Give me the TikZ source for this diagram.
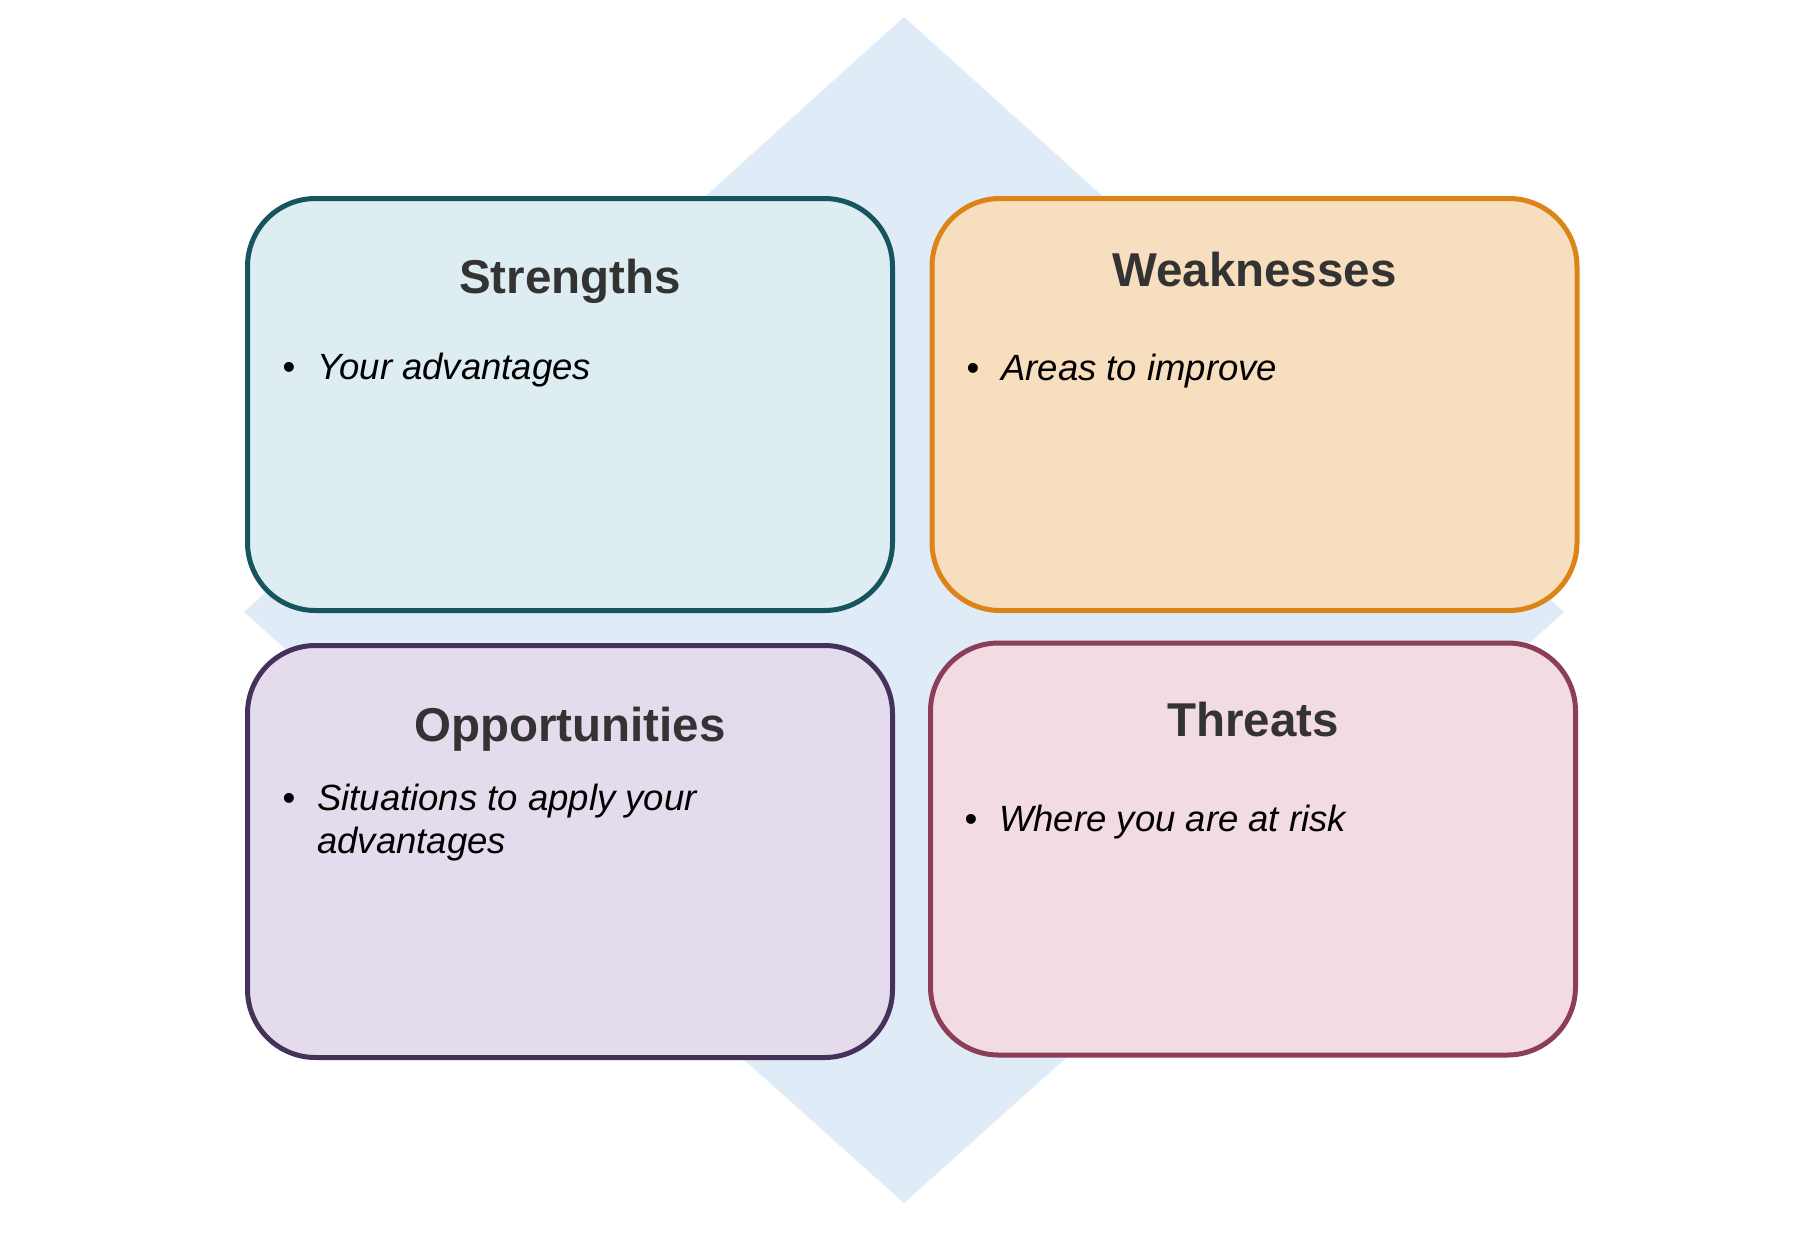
\documentclass[tikz,border=0pt]{standalone}
\usepackage{fontspec}
\setmainfont{Liberation Sans}
\definecolor{diamondblue}{HTML}{DFEBF7}
\definecolor{titlegray}{HTML}{333333}
\definecolor{sfill}{HTML}{DDEDF1}
\definecolor{sdraw}{HTML}{16555E}
\definecolor{wfill}{HTML}{F7DEBE}
\definecolor{wdraw}{HTML}{DC8418}
\definecolor{ofill}{HTML}{E4DCEC}
\definecolor{odraw}{HTML}{45325A}
\definecolor{tfill}{HTML}{F3DBE3}
\definecolor{tdraw}{HTML}{8C3D58}
\begin{document}
\begin{tikzpicture}[
    x=1pt, y=-1pt,
    quadbox/.style={line width=5pt, rounded corners=68pt, minimum width=645pt,
      minimum height=412pt, inner sep=0pt},
    quadtitle/.style={font=\fontsize{47.5}{56}\selectfont\bfseries, text=titlegray,
      anchor=base, inner sep=0pt},
    itemlbl/.style={font=\fontsize{36.5}{43}\selectfont\itshape, anchor=base west,
      inner sep=0pt},
    dotlbl/.style={font=\fontsize{36.5}{43}\selectfont, anchor=base, inner sep=0pt}
  ]
  \useasboundingbox (0,0) rectangle (1810,1254);
  \fill[diamondblue] (904,17) -- (1564,612) -- (904,1203) -- (244,612) -- cycle;
  \foreach \name/\cx/\cy/\col/\title/\ty/\bx/\by/\txt in {%
    s/570/404.5/s/Strengths/293/289/379/Your advantages,
    w/1254.5/404.5/w/Weaknesses/286/973/380/Areas to improve,
    o/570/851.5/o/Opportunities/741/289/810/{Situations to apply your\\advantages},
    t/1253/849/t/Threats/736/971/831/Where you are at risk%
  }{
    \node[quadbox, fill=\col fill, draw=\col draw] (box-\name) at (\cx,\cy) {};
    \node[quadtitle] (title-\name) at (\cx,\ty) {\title};
    \node[dotlbl] (dot-\name) at (\bx,\by) {\textbullet};
    \node[itemlbl] (item-\name) at (\bx+28,\by)
      {\begin{tabular}[t]{@{}l@{}}\txt\end{tabular}};
  }
\end{tikzpicture}
\end{document}
